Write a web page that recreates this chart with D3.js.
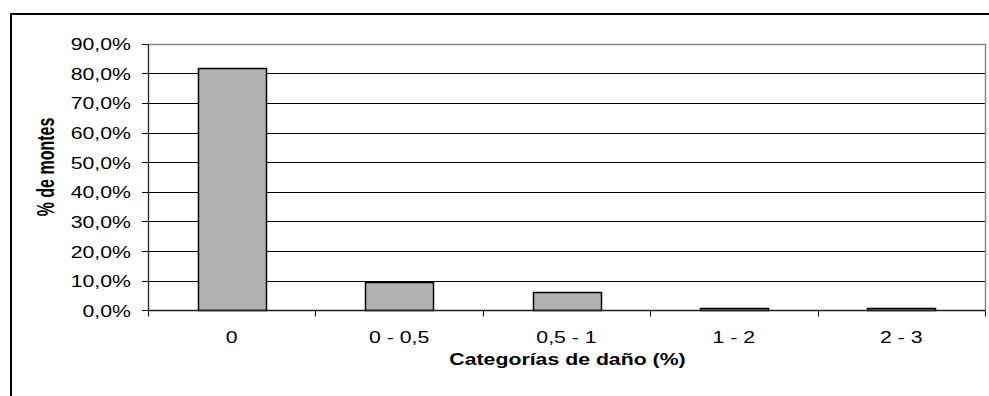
<!DOCTYPE html>
<html><head><meta charset="utf-8">
<script src="https://cdn.jsdelivr.net/npm/d3@7"></script>
<style>html,body{margin:0;padding:0;background:#fff;}svg{display:block;}</style>
</head><body>
<svg id="c" width="989" height="396"></svg>
<script>
const categories = ["0", "0 - 0,5", "0,5 - 1", "1 - 2", "2 - 3"];
const values = [81.7, 9.6, 6.2, 0.8, 0.8];
const yTicks = [0, 10, 20, 30, 40, 50, 60, 70, 80, 90];
const xTitle = "Categorías de daño (%)";
const yTitle = "% de montes";

const svg = d3.select("#c");
const FONT = "'Liberation Sans', Arial, sans-serif";
const SX = 1.33;
const L = 148, R = 985, T = 43.7, B = 310.3;
const px = v => Math.round(v) + 0.5;

// outer frame
svg.append("rect").attr("x", 11).attr("y", 14).attr("width", 1100).attr("height", 500)
  .attr("fill", "none").attr("stroke", "#000").attr("stroke-width", 2);

const x = d3.scaleBand().domain(categories).range([L, R]).paddingInner(0.594).paddingOuter(0.297);
const y = d3.scaleLinear().domain([0, 90]).range([B, T]);

// gridlines
svg.append("g").selectAll("line").data(yTicks.filter(d => d > 0 && d < 90)).join("line")
  .attr("x1", L).attr("x2", R).attr("y1", d => px(y(d))).attr("y2", d => px(y(d)))
  .attr("stroke", "#000").attr("stroke-width", 1);
// plot area top/right border (gray)
svg.append("path").attr("d", `M${L},${px(y(90))}H${px(R)}V${px(B)}`).attr("fill", "none")
  .attr("stroke", "#888").attr("stroke-width", 1.5);

// bars
svg.append("g").selectAll("rect").data(values).join("rect")
  .attr("x", (d, i) => px(x(categories[i]))).attr("width", Math.round(x.bandwidth()))
  .attr("y", d => px(y(d))).attr("height", d => px(B) - px(y(d)))
  .attr("fill", "#b2b2b2").attr("stroke", "#000").attr("stroke-width", 1.5);

// axes lines
svg.append("line").attr("x1", px(L)).attr("x2", px(L)).attr("y1", px(T)).attr("y2", px(B)).attr("stroke", "#222").attr("stroke-width", 1.3);
svg.append("line").attr("x1", L).attr("x2", R).attr("y1", px(B)).attr("y2", px(B)).attr("stroke", "#222").attr("stroke-width", 1.3);

// y ticks
svg.append("g").selectAll("line").data(yTicks).join("line")
  .attr("x1", L - 6).attr("x2", L).attr("y1", d => px(y(d))).attr("y2", d => px(y(d)))
  .attr("stroke", "#000").attr("stroke-width", 1);
// x ticks at boundaries
const step = x.step();
svg.append("g").selectAll("line").data(d3.range(categories.length + 1)).join("line")
  .attr("x1", i => px(L + i * step)).attr("x2", i => px(L + i * step)).attr("y1", px(B)).attr("y2", px(B) + 6)
  .attr("stroke", "#000").attr("stroke-width", 1);

function stext(tx, ty, txt, anchor, size, weight, rot, s) {
  const k = s || SX;
  const g = svg.append("g").attr("transform", `translate(${tx},${ty})` + (rot ? ` rotate(${rot})` : ""));
  g.append("text").attr("transform", rot ? `scale(1,${k})` : `scale(${k},1)`)
    .attr("text-anchor", anchor).attr("dominant-baseline", "central")
    .attr("font-family", FONT).attr("font-size", size).attr("font-weight", weight)
    .attr("fill", "#000").text(txt);
}

yTicks.forEach(d => stext(131, y(d) + 1, d3.format(".1f")(d).replace(".", ",") + "%", "end", 16, "normal"));
categories.forEach(c => stext(x(c) + x.bandwidth() / 2, 337, c, "middle", 16, "normal"));
stext((L + R) / 2 + 1, 359, xTitle, "middle", 16, "bold");
stext(45.5, 167, yTitle, "middle", 16, "bold", -90, 1.5);
</script>
</body></html>
